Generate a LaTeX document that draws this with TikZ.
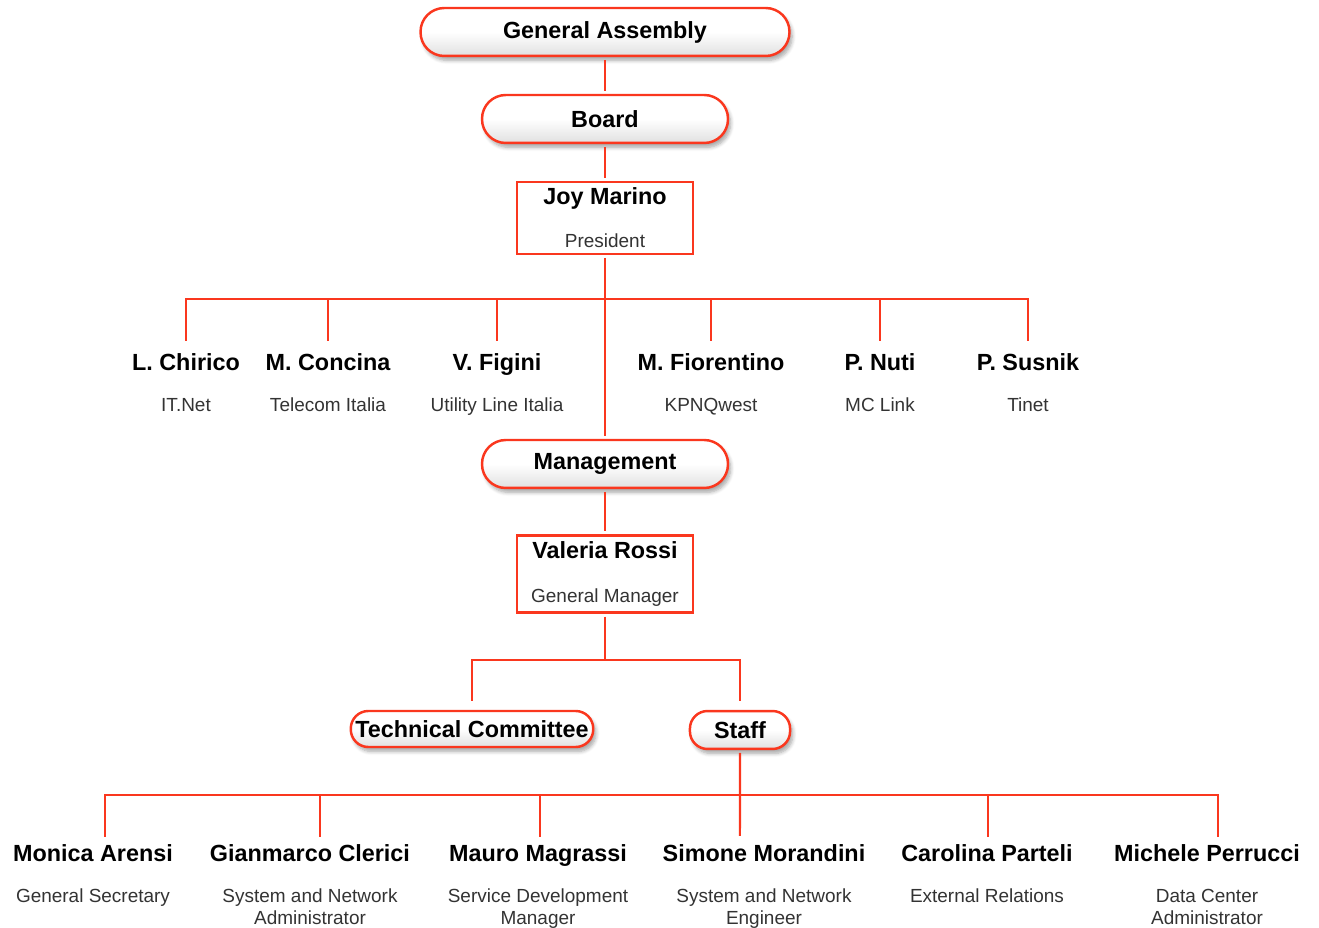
\documentclass[tikz,border=0pt]{standalone}
\usepackage{fontspec}
\setmainfont{Liberation Sans}
\usetikzlibrary{shadows.blur}
\definecolor{orgred}{RGB}{250,55,30}
\newcommand{\namefont}{\fontsize{13.3}{15}\selectfont\bfseries\color{black}}

\begin{document}
\begin{tikzpicture}[x=0.02cm, y=-0.02cm]
	\tikzstyle{pill} = [rectangle, rounded corners=13.5pt, draw=orgred, line width=1.4pt, top color=white, bottom color=black!12, middle color=white, blur shadow={shadow xshift=1.5pt, shadow yshift=-2.5pt, shadow opacity=35, shadow blur steps=6}, font=\namefont, inner sep=0pt, minimum height=27.3pt];
	\tikzstyle{box} = [rectangle, draw=orgred, line width=1.4pt, fill=white, align=center, minimum width=100pt, text=black!80, font=\fontsize{10.8}{12.5}\selectfont];
	\tikzstyle{person} = [align=center, anchor=north, inner sep=1pt, text=black!80, font=\fontsize{10.8}{12.5}\selectfont];
	\tikzstyle{link} = [draw=orgred, line width=1.2pt, shorten <=1.5pt, shorten >=1.5pt];
	\tikzstyle{drop} = [link, shorten <=0pt, shorten >=5.7pt];
	\tikzstyle{staffdrop} = [link, shorten <=0pt, shorten >=3pt];
	\useasboundingbox (0,0) rectangle (1319,928);

	\node[pill, minimum width=210pt](general assembly) at (605,32){General Assembly};
	\node[pill, minimum width=140pt](board) at (605,119){Board};
	\node[box, minimum height=40pt](president) at (605,218){{\namefont Joy Marino}\\[12pt]President};
	\node[pill, minimum width=140pt](management) at (605,464){Management};
	\node[box, minimum height=44pt](manager) at (605,574){{\namefont Valeria Rossi}\\[12pt]General Manager};
	\node[pill, rounded corners=10pt, minimum width=138pt, minimum height=20.5pt](tech committee) at (472,729){Technical Committee};
	\node[pill, rounded corners=10pt, minimum width=57pt, minimum height=21.6pt](staff) at (740,730){Staff};

	% board members
	\node[person](chirico) at (186,351){{\namefont L. Chirico}\\[11pt]IT.Net};
	\node[person](concina) at (328,351){{\namefont M. Concina}\\[11pt]Telecom Italia};
	\node[person](figini) at (497,351){{\namefont V. Figini}\\[11pt]Utility Line Italia};
	\node[person](fiorentino) at (711,351){{\namefont M. Fiorentino}\\[11pt]KPNQwest};
	\node[person](nuti) at (880,351){{\namefont P. Nuti}\\[11pt]MC Link};
	\node[person](susnik) at (1028,351){{\namefont P. Susnik}\\[11pt]Tinet};

	% staff members
	\node[person](arensi) at (93,842){{\namefont Monica Arensi}\\[11pt]General Secretary};
	\node[person](clerici) at (310,842){{\namefont Gianmarco Clerici}\\[11pt]System and Network\\Administrator};
	\node[person](magrassi) at (538,842){{\namefont Mauro Magrassi}\\[11pt]Service Development\\Manager};
	\node[person](morandini) at (764,842){{\namefont Simone Morandini}\\[11pt]System and Network\\Engineer};
	\node[person](parteli) at (987,842){{\namefont Carolina Parteli}\\[11pt]External Relations};
	\node[person](perrucci) at (1207,842){{\namefont Michele Perrucci}\\[11pt]Data Center\\Administrator};

	\coordinate (board bar) at (605,299);
	\coordinate (manager bar) at (605,660);
	\coordinate (staff bar) at (740,795);

	\path[link] (general assembly) -- (board);
	\path[link] (board) -- (president);
	\path[link] (president) -- (management);
	\path[link] (management) -- (manager);
	\path[link, shorten >=0pt] (manager) -- (manager bar);

	\path[drop] (board bar) -| (chirico.north);
	\path[drop] (board bar) -| (concina.north);
	\path[drop] (board bar) -| (figini.north);
	\path[drop] (board bar) -| (fiorentino.north);
	\path[drop] (board bar) -| (nuti.north);
	\path[drop] (board bar) -| (susnik.north);

	\path[link, shorten <=0pt, shorten >=5pt] (manager bar) -| (tech committee);
	\path[link, shorten <=0pt, shorten >=5pt] (manager bar) -| (staff);

	\path[link, shorten >=3.5pt] (staff) -- ([xshift=-13.7pt]morandini.north);
	\path[staffdrop] (staff bar) -| ([xshift=6.8pt]arensi.north);
	\path[staffdrop] (staff bar) -| ([xshift=5.7pt]clerici.north);
	\path[staffdrop] (staff bar) -| ([xshift=1.1pt]magrassi.north);
	\path[staffdrop] (staff bar) -| ([xshift=0.6pt]parteli.north);
	\path[staffdrop] (staff bar) -| ([xshift=6.3pt]perrucci.north);
\end{tikzpicture}
\end{document}
